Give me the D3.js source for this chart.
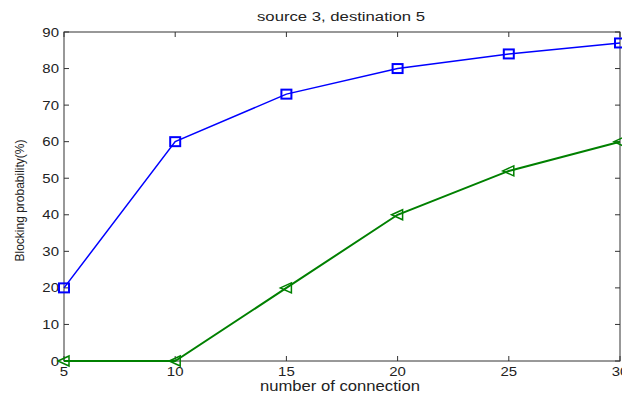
<!DOCTYPE html>
<html><head><meta charset="utf-8">
<script src="https://cdn.jsdelivr.net/npm/d3@7"></script>
<style>body{margin:0;background:#fff;overflow:hidden}svg{display:block}text{font-family:"Liberation Sans",Arial,sans-serif}</style>
</head><body>
<svg id="c" width="622" height="394"></svg>
<script>
const xValues = [5, 10, 15, 20, 25, 30];
const seriesBlue = [20, 60, 73, 80, 84, 87];
const seriesGreen = [0, 0, 20, 40, 52, 60];
const xTicks = [5, 10, 15, 20, 25, 30];
const yTicks = [0, 10, 20, 30, 40, 50, 60, 70, 80, 90];
const title = "source 3, destination 5";
const xLabel = "number of connection";
const yLabel = "Blocking probability(%)";

const svg = d3.select("#c");
const L = 64, R = 620, T = 32, B = 361;
const x = d3.scaleLinear().domain([5, 30]).range([L, R]);
const y = d3.scaleLinear().domain([0, 90]).range([B, T]);
const tk = 5;

function stretch(sel, f) {
  sel.each(function () {
    const w = this.getComputedTextLength();
    d3.select(this).attr("textLength", w * f).attr("lengthAdjust", "spacingAndGlyphs");
  });
}

svg.append("rect").attr("x", L).attr("y", T).attr("width", R - L).attr("height", B - T)
  .attr("fill", "none").attr("stroke", "#333").attr("stroke-width", 1);

const g = svg.append("g");
xTicks.forEach(v => {
  g.append("line").attr("x1", x(v)).attr("x2", x(v)).attr("y1", B).attr("y2", B - tk).attr("stroke", "#333");
  g.append("line").attr("x1", x(v)).attr("x2", x(v)).attr("y1", T).attr("y2", T + tk).attr("stroke", "#333");
  g.append("text").attr("class", "tl").attr("x", x(v)).attr("y", B + 15).attr("text-anchor", "middle").attr("font-size", 13).attr("fill", "#222").text(v);
});
yTicks.forEach(v => {
  g.append("line").attr("x1", L).attr("x2", L + tk).attr("y1", y(v)).attr("y2", y(v)).attr("stroke", "#333");
  g.append("line").attr("x1", R).attr("x2", R - tk).attr("y1", y(v)).attr("y2", y(v)).attr("stroke", "#333");
  g.append("text").attr("class", "tl").attr("x", L - 5).attr("y", y(v) + 4.5).attr("text-anchor", "end").attr("font-size", 13).attr("fill", "#222").text(v);
});
stretch(g.selectAll("text.tl"), 1.15);

const line = d3.line().x((d, i) => x(xValues[i])).y(d => y(d));
svg.append("path").datum(seriesBlue).attr("d", line).attr("fill", "none").attr("stroke", "#0000ff").attr("stroke-width", 1.5);
svg.append("path").datum(seriesGreen).attr("d", line).attr("fill", "none").attr("stroke", "#008000").attr("stroke-width", 2);

svg.selectAll(".sq").data(seriesBlue).enter().append("rect")
  .attr("x", (d, i) => x(xValues[i]) - 5).attr("y", d => y(d) - 4.5)
  .attr("width", 10).attr("height", 9).attr("fill", "none").attr("stroke", "#0000ff").attr("stroke-width", 2);

svg.selectAll(".tri").data(seriesGreen).enter().append("path")
  .attr("d", (d, i) => { const cx = x(xValues[i]), cy = y(d); return `M${cx-6},${cy}L${cx+5},${cy-5}L${cx+5},${cy+5}Z`; })
  .attr("fill", "none").attr("stroke", "#008000").attr("stroke-width", 1.5);

svg.append("text").attr("x", 341).attr("y", 21).attr("text-anchor", "middle").attr("font-size", 12.5).attr("fill", "#222")
  .attr("textLength", 168).attr("lengthAdjust", "spacingAndGlyphs").text(title);
svg.append("text").attr("x", 340).attr("y", 391).attr("text-anchor", "middle").attr("font-size", 14).attr("fill", "#222")
  .attr("textLength", 160).attr("lengthAdjust", "spacingAndGlyphs").text(xLabel);
svg.append("text").attr("transform", `translate(24,${(T + B) / 2 + 4}) rotate(-90)`).attr("text-anchor", "middle").attr("font-size", 12).attr("fill", "#222").text(yLabel);
</script>
</body></html>
